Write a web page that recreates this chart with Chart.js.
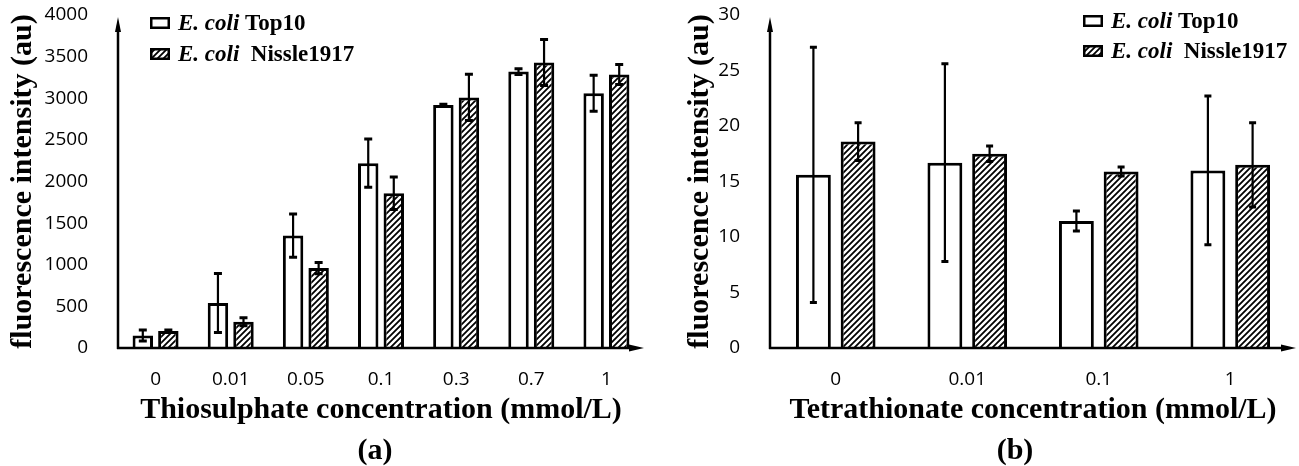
<!DOCTYPE html>
<html><head><meta charset="utf-8">
<script src="https://cdn.jsdelivr.net/npm/chart.js@4.4.1/dist/chart.umd.min.js"></script>
<style>
html,body{margin:0;padding:0;background:#fff;width:1299px;height:466px;overflow:hidden;}
.wrap{position:absolute;top:0;height:466px;}
#wa{left:0;width:650px;} #wb{left:650px;width:649px;}
canvas{display:block;}
.cap{position:absolute;font:bold 30px "Liberation Serif",serif;color:#000;transform:translate(-50%,-50%);white-space:nowrap;line-height:1;}
</style></head><body>
<div class="wrap" id="wa"><canvas id="ca" width="650" height="466"></canvas></div>
<div class="wrap" id="wb"><canvas id="cb" width="649" height="466"></canvas></div>
<div class="cap" style="left:375px;top:449px">(a)</div>
<div class="cap" style="left:1015px;top:449px">(b)</div>
<script>
// ---------- data ----------
const seriesNames = ['E. coli Top10', 'E. coli  Nissle1917'];
const yTitle = 'fluorescence intensity (au)';

const categoriesA = ['0', '0.01', '0.05', '0.1', '0.3', '0.7', '1'];
const top10A      = [150, 540, 1350, 2220, 2920, 3320, 3060];
const top10ErrA   = [65, 355, 260, 290, 8, 35, 216];
const nissleA     = [205, 315, 960, 1860, 3010, 3430, 3285];
const nissleErrA  = [10, 48, 68, 195, 277, 276, 120];
const yMaxA = 4000, yStepA = 500;
const xTitleA = 'Thiosulphate concentration (mmol/L)';

const categoriesB = ['0', '0.01', '0.1', '1'];
const top10B      = [15.6, 16.7, 11.45, 16.0];
const top10ErrB   = [11.5, 8.9, 0.9, 6.7];
const nissleB     = [18.6, 17.5, 15.9, 16.5];
const nissleErrB  = [1.7, 0.7, 0.4, 3.8];
const yMaxB = 30, yStepB = 5;
const xTitleB = 'Tetrathionate concentration (mmol/L)';

// ---------- helpers ----------
function hatch(){
  const c = document.createElement('canvas'); c.width = 6; c.height = 6;
  const g = c.getContext('2d');
  g.fillStyle = '#fff'; g.fillRect(0,0,6,6);
  g.strokeStyle = '#000'; g.lineWidth = 1.8;
  g.beginPath();
  g.moveTo(-1,7); g.lineTo(7,-1);
  g.moveTo(-1,1); g.lineTo(1,-1);
  g.moveTo(5,7); g.lineTo(7,5);
  g.stroke();
  return g.createPattern(c, 'repeat');
}

const errorBars = {
  id: 'errorBars',
  afterDatasetsDraw(chart, args, opts) {
    const ctx = chart.ctx, ys = chart.scales.y;
    ctx.save();
    ctx.strokeStyle = '#000';
    chart.data.datasets.forEach((ds, i) => {
      const meta = chart.getDatasetMeta(i);
      meta.data.forEach((el, j) => {
        const v = ds.data[j], e = ds.errors[j];
        const yt = ys.getPixelForValue(v + e), yb = ys.getPixelForValue(v - e);
        const x = el.x, hw = opts.cap || 4;
        ctx.lineWidth = 2.2;
        ctx.beginPath(); ctx.moveTo(x, yt); ctx.lineTo(x, yb); ctx.stroke();
        ctx.lineWidth = 3;
        ctx.beginPath();
        ctx.moveTo(x - hw, yt); ctx.lineTo(x + hw, yt);
        ctx.moveTo(x - hw, yb); ctx.lineTo(x + hw, yb);
        ctx.stroke();
      });
    });
    ctx.restore();
  }
};

const axisArrows = {
  id: 'axisArrows',
  afterDatasetsDraw(chart) {
    const {ctx, chartArea:{left, right, top, bottom}} = chart;
    ctx.save();
    ctx.strokeStyle = '#000'; ctx.fillStyle = '#000'; ctx.lineWidth = 2.5;
    ctx.beginPath(); ctx.moveTo(left, bottom + 1); ctx.lineTo(left, top + 14); ctx.stroke();
    ctx.beginPath(); ctx.moveTo(left, top + 2); ctx.lineTo(left - 3, top + 17); ctx.lineTo(left + 3, top + 17); ctx.closePath(); ctx.fill();
    ctx.beginPath(); ctx.moveTo(left - 1, bottom); ctx.lineTo(right - 12, bottom); ctx.stroke();
    ctx.beginPath(); ctx.moveTo(right, bottom); ctx.lineTo(right - 15, bottom - 3.5); ctx.lineTo(right - 15, bottom + 3.5); ctx.closePath(); ctx.fill();
    ctx.restore();
  }
};

const mixLegend = {
  id: 'mixLegend',
  afterDraw(chart, args, opts) {
    const ctx = chart.ctx;
    ctx.save();
    chart.data.datasets.forEach((ds, i) => {
      const bx = opts.x, by = opts.y + i * opts.gap;
      ctx.fillStyle = ds.backgroundColor;
      ctx.fillRect(bx, by, 20, 12);
      ctx.strokeStyle = '#000'; ctx.lineWidth = 2.5;
      ctx.strokeRect(bx + 1.25, by + 1.25, 17.5, 9.5);
      const label = ds.label;
      const it = 'E. coli';
      const rest = label.startsWith(it) ? label.slice(it.length) : label;
      let tx = bx + 28; const ty = by + 13;
      ctx.fillStyle = '#000'; ctx.textBaseline = 'alphabetic'; ctx.textAlign = 'left';
      if (label.startsWith(it)) {
        ctx.font = 'italic bold 23px "Liberation Serif"';
        ctx.fillText(it, tx, ty);
        tx += ctx.measureText(it).width;
      }
      ctx.font = 'bold 23px "Liberation Serif"';
      ctx.fillText(rest, tx, ty);
    });
    ctx.restore();
  }
};

function makeChart(id, cats, d1, e1, d2, e2, yMax, yStep, xTitle, cfg) {
  const tickFont = {family: 'Open Sans', size: 19};
  const titleFont = {family: 'Liberation Serif', size: 30, weight: 'bold'};
  return new Chart(document.getElementById(id), {
    type: 'bar',
    data: {
      labels: cats,
      datasets: [
        {label: seriesNames[0], data: d1, errors: e1, backgroundColor: '#ffffff', borderColor: '#000', borderWidth: 3,
         categoryPercentage: 0.68, barPercentage: cfg.bp},
        {label: seriesNames[1], data: d2, errors: e2, backgroundColor: hatch(), borderColor: '#000', borderWidth: 3,
         categoryPercentage: 0.68, barPercentage: cfg.bp}
      ]
    },
    options: {
      responsive: false, animation: false, devicePixelRatio: 1,
      layout: {padding: {left: 0, right: cfg.padRight, top: 15, bottom: 0}},
      plugins: {
        legend: {display: false}, tooltip: {enabled: false},
        errorBars: {cap: cfg.cap},
        mixLegend: {x: cfg.legX, y: cfg.legY, gap: cfg.legGap}
      },
      scales: {
        x: {
          grid: {display: false}, border: {display: false},
          ticks: {font: tickFont, color: '#000', padding: 12, maxRotation: 0, autoSkip: false},
          title: {display: true, text: xTitle, font: titleFont, color: '#000', padding: {top: 0, bottom: 38}},
          afterFit(s) { s.height = 118; s.paddingLeft = 0; s.paddingRight = 0; }
        },
        y: {
          min: 0, max: yMax,
          grid: {display: false}, border: {display: false},
          ticks: {stepSize: yStep, font: tickFont, color: '#000', padding: 22, callback: v => String(v)},
          title: {display: true, text: yTitle, font: titleFont, color: '#000', padding: {top: cfg.yTitlePad, bottom: 0}},
          afterFit(s) { s.width = cfg.yWidth; s.paddingTop = 0; s.paddingBottom = 0; }
        }
      }
    },
    plugins: [errorBars, axisArrows, mixLegend]
  });
}

makeChart('ca', categoriesA, top10A, top10ErrA, nissleA, nissleErrA, yMaxA, yStepA, xTitleA,
  {bp: 0.8, cap: 4, padRight: 6, yWidth: 118, yTitlePad: 5, legX: 150, legY: 17, legGap: 31});
makeChart('cb', categoriesB, top10B, top10ErrB, nissleB, nissleErrB, yMaxB, yStepB, xTitleB,
  {bp: 0.78, cap: 3.5, padRight: 3, yWidth: 120, yTitlePad: 32, legX: 433, legY: 15, legGap: 30});
</script>
</body></html>
